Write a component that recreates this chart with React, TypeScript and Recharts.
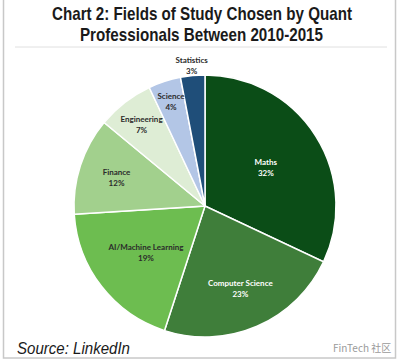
import { PieChart, Pie, Cell } from 'recharts';

// Fields of study, clockwise from 12 o'clock
const FIELDS = ['Maths', 'Computer Science', 'AI/Machine Learning', 'Finance', 'Engineering', 'Science', 'Statistics'];
const SHARES = [32, 23, 19, 12, 7, 4, 3];
const COLORS = ['#0b4d17', '#3f7e3a', '#6dbd50', '#a2d08d', '#deedd5', '#b3c6e6', '#1f4e79'];

// label placement (fraction of radius) and text colour per slice
const LABEL_RADIUS: Record<string, number> = {
  Maths: 0.55,
  'Computer Science': 0.68,
  'AI/Machine Learning': 0.57,
  Finance: 0.71,
  Engineering: 0.79,
  Science: 0.84,
  Statistics: 1.08,
};
const LIGHT_LABELS = ['Maths', 'Computer Science'];

const data = FIELDS.map((name, i) => ({ name, value: SHARES[i] }));

const RADIAN = Math.PI / 180;

const renderLabel = (props: any) => {
  const { cx, cy, midAngle, outerRadius, name, value } = props;
  const r = outerRadius * (LABEL_RADIUS[name] ?? 0.65);
  const x = cx + r * Math.cos(-midAngle * RADIAN);
  const y = cy + r * Math.sin(-midAngle * RADIAN);
  const fill = LIGHT_LABELS.includes(name) ? '#ffffff' : '#2b2b2b';
  return (
    <text x={x} y={y} textAnchor="middle" fill={fill} fontFamily="Lato" fontWeight={700} fontSize={8}>
      <tspan x={x} dy={-2}>{name}</tspan>
      <tspan x={x} dy={11}>{value}%</tspan>
    </text>
  );
};

export default function App() {
  return (
    <div style={{ position: 'absolute', left: 0, top: 0, width: 400, height: 363, background: '#fff' }}>
      <svg width={400} height={363} style={{ position: 'absolute', left: 0, top: 0 }}>
        <rect x={3.5} y={-2} width={392} height={360} fill="none" stroke="#c8c8c8" strokeWidth={1.5} />
        <text x={202} y={20} textAnchor="middle" fontFamily="Liberation Sans" fontWeight={700} fontSize={19}
          fill="#1a1a1a" textLength={300} lengthAdjust="spacingAndGlyphs">
          Chart 2: Fields of Study Chosen by Quant
        </text>
        <text x={201.5} y={40.5} textAnchor="middle" fontFamily="Liberation Sans" fontWeight={700} fontSize={19}
          fill="#1a1a1a" textLength={243} lengthAdjust="spacingAndGlyphs">
          Professionals Between 2010-2015
        </text>
        <line x1={15} y1={47} x2={387} y2={47} stroke="#e0e0e0" strokeWidth={1} />
        <text x={17} y={354} fontFamily="Liberation Sans" fontStyle="italic" fontSize={17} fill="#1a1a1a"
          textLength={113} lengthAdjust="spacingAndGlyphs">
          Source: LinkedIn
        </text>
        <text x={333} y={352} fontFamily="Noto Sans CJK SC" fontSize={10} fill="#9a9a9a">
          FinTech 社区
        </text>
      </svg>
      <div style={{ position: 'absolute', left: 0, top: 0 }}>
        <PieChart width={400} height={363}>
          <Pie
            data={data}
            dataKey="value"
            nameKey="name"
            cx={200}
            cy={201}
            outerRadius={131}
            startAngle={90}
            endAngle={-270}
            stroke="#ffffff"
            strokeWidth={1.5}
            label={renderLabel}
            labelLine={false}
            isAnimationActive={false}
          >
            {data.map((d, i) => (
              <Cell key={d.name} fill={COLORS[i]} />
            ))}
          </Pie>
        </PieChart>
      </div>
    </div>
  );
}
